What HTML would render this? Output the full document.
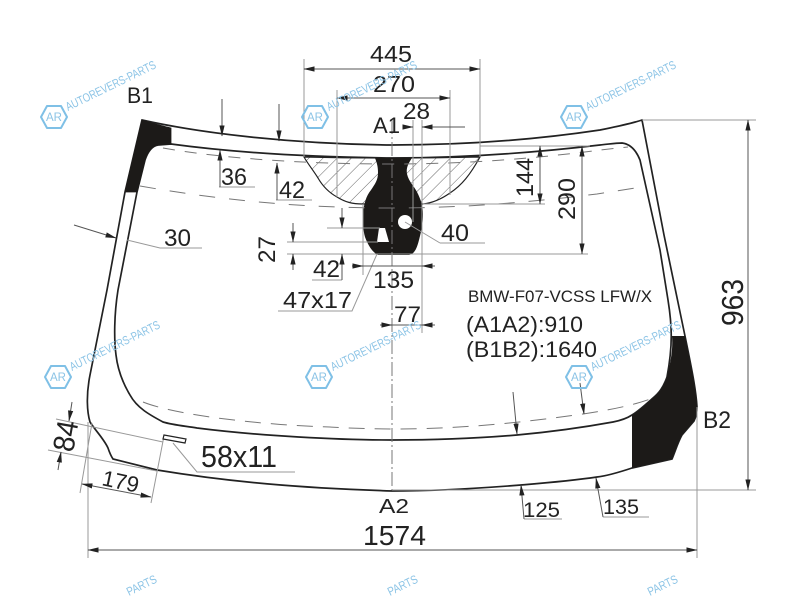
<!DOCTYPE html>
<html>
<head>
<meta charset="utf-8">
<style>
html,body{margin:0;padding:0;background:#fff;width:800px;height:600px;overflow:hidden}
svg{display:block;overflow:hidden}
text{font-family:"Liberation Sans",sans-serif;fill:#222}
text.wt{fill:#8cc4e6;font-size:12px}
text.ar{fill:#8cc4e6;font-size:12px}
.d{stroke:#555;stroke-width:1;fill:none}
.g{stroke:#999;stroke-width:1;fill:none}
.o{stroke:#222;stroke-width:1.7;fill:none}
.da{stroke:#777;stroke-width:1;fill:none;stroke-dasharray:12 10}
.hex{fill:none;stroke:#7fc0e6;stroke-width:2;stroke-linejoin:round}
</style>
</head>
<body>
<svg width="800" height="600" viewBox="0 0 800 600" xmlns="http://www.w3.org/2000/svg">
<defs>
<pattern id="h" width="10" height="10" patternUnits="userSpaceOnUse" patternTransform="rotate(-45)">
<rect width="10" height="10" fill="#fff"/><line x1="0" y1="0" x2="10" y2="0" stroke="#666" stroke-width="1"/>
</pattern>
<marker id="a" markerWidth="11" markerHeight="6" refX="10.5" refY="3" orient="auto-start-reverse" markerUnits="userSpaceOnUse"><path d="M0,0.4 L11,3 L0,5.6 Z" fill="#222"/></marker>
</defs>
<rect width="800" height="600" fill="#fff"/>

<!-- glass outlines -->
<path d="M142,120 C200,133 290,144 392,145 C470,145 540,139 600,130 C615,127 630,124 642,120 L664,235 L685,336 C692,370 696,390 697,407 C697,413 696,417 694,421 L682,435 C678,442 675,452 672,459 L632,468 C620,472 606,476 597,477 C570,481 545,483 521,485 C470,489 430,491 392,491 C300,488 230,482 157,470 L113,459 C111,456 109,451 108,448 C104,439 95,430 90,422 C87,412 86,395 90,375 L107,290 L125,192 Z" fill="none" stroke="#222" stroke-width="1.7"/>
<path class="o" d="M171,144 C230,152 300,157 392,158 C470,158 540,152 600,145 C610,144 616,143 622,143 C630,144 636,150 640,160 L660,250 L668,300 C672,325 673,345 667,377 C663,388 659,393 653,398 C645,405 640,410 632,415 C626,419 618,421 613,422 C580,428 550,432 517,435 C470,439 430,440 392,440 C340,440 260,436 197,428 C185,426 173,425 163,422 C150,415 137,408 130,395 C124,385 118,372 116,355 C114,340 114,315 118,290 L137,192 L145,160 C148,151 152,146 158,145 Z"/>

<!-- hatched zone -->
<path d="M304,157 Q392,159 480,157 C470,175 462,185 450,193 C440,200 432,203 423,204 L363,204 C352,204 345,202 337,197 C328,192 322,185 318,178 C313,170 308,164 304,157 Z" fill="url(#h)" stroke="#222" stroke-width="1.2"/>

<!-- black areas -->
<path d="M142,120 C152,123 162,126 171,128 L171,144 L158,145 C152,146 148,151 145,160 L137,192 L125,192 Z" fill="#1c1a18" stroke="#1c1a18" stroke-width="0.8"/>
<path d="M672,336 L685,336 C692,370 696,390 697,407 C697,413 696,417 694,421 L682,435 C678,442 675,452 672,459 L632,468 L632,415 C640,410 645,405 653,398 C659,393 663,388 667,377 C671,360 673,350 672,336 Z" fill="#1c1a18"/>
<path d="M375,158 L412,158 C408,164 406,168 407,174 C409,182 414,186 417,192 C421,200 423,206 423,214 C423,222 422,228 420,236 C418,244 416,254 409,255 L378,255 C372,252 368,245 365,237 C363,230 363,222 363,213 C364,204 366,196 371,190 C375,184 378,180 378,173 C378,167 377,163 375,158 Z" fill="#1c1a18"/>
<circle cx="405" cy="222" r="7" fill="#fff"/>
<path d="M377,242 L379,228 L385,228 L389,242 Z" fill="#fff"/>

<!-- dashed -->
<path class="da" d="M163,148 C220,158 300,164 392,164 C470,164 540,158 600,150 L628,147"/>
<path class="da" style="stroke-dasharray:16 14" d="M140,186 C220,200 300,208 392,208 C470,208 540,201 597,194 L642,187"/>
<path class="da" style="stroke-dasharray:16 10" d="M143,402 C175,415 260,425 330,427 C400,431 470,430 583,414 C610,410 635,405 653,398"/>

<!-- center line -->
<line x1="392" y1="120" x2="392" y2="490" stroke="#777" stroke-width="1" stroke-dasharray="14 3 2 3"/>

<!-- dimensions -->
<g class="g">
<path d="M304,59 V157 M480,59 V157"/>
<path d="M337,90 V197 M450,90 V195"/>
<path d="M413,120 V222 M422,120 V333"/>
<path d="M423,204 H545 M480,146 H590 M372,254 H588 M327,228 H380 M287,242 H378 M287,254 H372"/>
<path d="M363,204 V275"/>
<path d="M642,120 H756 M392,490 H756 M88,422 V558 M697,407 V558"/>
<path d="M56,419 L163,442 M48,450 L157,471 M92,423 L80,493 M164,436 L151,503"/>
<path d="M173,443 L197,472 H295"/>
<path d="M440,243 H485 M405,222 L440,243"/>
<path d="M377,254 L352,311 H278"/>
<path d="M312,280 H342"/>
<path d="M219,187 H255 M276,200 H312"/>
<path d="M127,240 L160,248 H202"/>
<path d="M524,519 H562 M603,517 H649"/>
</g>
<g class="d">
<line x1="304" y1="69" x2="480" y2="69" marker-start="url(#a)" marker-end="url(#a)"/>
<line x1="337" y1="98" x2="450" y2="98" marker-start="url(#a)" marker-end="url(#a)"/>
<line x1="403" y1="127" x2="413" y2="127" marker-end="url(#a)"/>
<line x1="465" y1="127" x2="422" y2="127" marker-end="url(#a)"/>
<line x1="540" y1="146" x2="540" y2="204" marker-start="url(#a)" marker-end="url(#a)"/>
<line x1="582" y1="146" x2="582" y2="254" marker-start="url(#a)" marker-end="url(#a)"/>
<line x1="342" y1="208" x2="342" y2="228" marker-end="url(#a)"/>
<line x1="342" y1="280" x2="342" y2="254" marker-end="url(#a)"/>
<line x1="293" y1="223" x2="293" y2="242" marker-end="url(#a)"/>
<line x1="293" y1="270" x2="293" y2="254" marker-end="url(#a)"/>
<line x1="352" y1="266" x2="363" y2="266" marker-end="url(#a)"/>
<line x1="435" y1="266" x2="422" y2="266" marker-end="url(#a)"/>
<line x1="363" y1="266" x2="422" y2="266"/>
<line x1="380" y1="325" x2="392" y2="325" marker-end="url(#a)"/>
<line x1="435" y1="325" x2="422" y2="325" marker-end="url(#a)"/>
<line x1="392" y1="325" x2="422" y2="325"/>
<line x1="748" y1="120" x2="748" y2="490" marker-start="url(#a)" marker-end="url(#a)"/>
<line x1="88" y1="550" x2="697" y2="550" marker-start="url(#a)" marker-end="url(#a)"/>
<line x1="222" y1="99" x2="222" y2="136" marker-end="url(#a)"/>
<line x1="279" y1="104" x2="279" y2="141" marker-end="url(#a)"/>
<line x1="220" y1="187" x2="220" y2="150" marker-end="url(#a)"/>
<line x1="277" y1="200" x2="277" y2="163" marker-end="url(#a)"/>
<line x1="74" y1="225" x2="116" y2="238" marker-end="url(#a)"/>
<line x1="513" y1="392" x2="517" y2="434" marker-end="url(#a)"/>
<line x1="580" y1="383" x2="584" y2="414" marker-end="url(#a)"/>
<line x1="524" y1="519" x2="521" y2="485" marker-end="url(#a)"/>
<line x1="603" y1="517" x2="596" y2="478" marker-end="url(#a)"/>
<line x1="72" y1="402" x2="69" y2="421" marker-end="url(#a)"/>
<line x1="58" y1="470" x2="61" y2="452" marker-end="url(#a)"/>
<line x1="82" y1="484" x2="151" y2="497" marker-start="url(#a)" marker-end="url(#a)"/>
</g>

<path d="M164,435 L186,439 L185,443 L163,439 Z" fill="#fff" stroke="#222" stroke-width="1.2"/>

<!-- labels -->
<text x="370" y="62" font-size="23" textLength="42" lengthAdjust="spacingAndGlyphs">445</text>
<text x="373" y="92" font-size="23" textLength="42" lengthAdjust="spacingAndGlyphs">270</text>
<text x="403" y="119" font-size="23" textLength="27" lengthAdjust="spacingAndGlyphs">28</text>
<text x="373" y="133" font-size="22" textLength="27" lengthAdjust="spacingAndGlyphs">A1</text>
<text x="127" y="103" font-size="22" textLength="26" lengthAdjust="spacingAndGlyphs">B1</text>
<text x="221" y="185" font-size="24" textLength="26" lengthAdjust="spacingAndGlyphs">36</text>
<text x="279" y="198" font-size="24" textLength="26" lengthAdjust="spacingAndGlyphs">42</text>
<text x="164" y="246" font-size="24" textLength="27" lengthAdjust="spacingAndGlyphs">30</text>
<text x="441" y="241" font-size="24" textLength="28" lengthAdjust="spacingAndGlyphs">40</text>
<text x="313" y="277" font-size="24" textLength="27" lengthAdjust="spacingAndGlyphs">42</text>
<text x="373" y="288" font-size="24" textLength="41" lengthAdjust="spacingAndGlyphs">135</text>
<text x="283" y="308" font-size="23" textLength="69" lengthAdjust="spacingAndGlyphs">47x17</text>
<text x="394" y="322" font-size="22" textLength="27" lengthAdjust="spacingAndGlyphs">77</text>
<text transform="translate(275,263) rotate(-90)" font-size="24" textLength="27" lengthAdjust="spacingAndGlyphs">27</text>
<text transform="translate(533,197) rotate(-90)" font-size="24" textLength="39" lengthAdjust="spacingAndGlyphs">144</text>
<text transform="translate(575,220) rotate(-90)" font-size="24" textLength="42" lengthAdjust="spacingAndGlyphs">290</text>
<text transform="translate(743,326) rotate(-90)" font-size="31" textLength="47" lengthAdjust="spacingAndGlyphs">963</text>
<text x="468" y="302" font-size="17" textLength="184" lengthAdjust="spacingAndGlyphs">BMW-F07-VCSS LFW/X</text>
<text x="466" y="332" font-size="22" textLength="117" lengthAdjust="spacingAndGlyphs">(A1A2):910</text>
<text x="466" y="357" font-size="22" textLength="131" lengthAdjust="spacingAndGlyphs">(B1B2):1640</text>
<text x="703" y="428" font-size="24" textLength="28" lengthAdjust="spacingAndGlyphs">B2</text>
<text x="201" y="467" font-size="31" textLength="76" lengthAdjust="spacingAndGlyphs">58x11</text>
<text transform="translate(73,453) rotate(-80)" font-size="30" textLength="31" lengthAdjust="spacingAndGlyphs">84</text>
<text transform="translate(101,485) rotate(12)" font-size="22" textLength="37" lengthAdjust="spacingAndGlyphs">179</text>
<text x="379" y="513" font-size="20" textLength="30" lengthAdjust="spacingAndGlyphs">A2</text>
<text x="523" y="517" font-size="21" textLength="37" lengthAdjust="spacingAndGlyphs">125</text>
<text x="603" y="514" font-size="21" textLength="36" lengthAdjust="spacingAndGlyphs">135</text>
<text x="363" y="545" font-size="28" textLength="63" lengthAdjust="spacingAndGlyphs">1574</text>

<!-- watermarks -->
<g>
<path class="hex" d="M41,117 L47,106 L61,106 L67,117 L61,128 L47,128 Z"/><text class="ar" x="46" y="121" textLength="16" lengthAdjust="spacingAndGlyphs">AR</text>
<text class="wt" transform="translate(68,111) rotate(-26)" textLength="99" lengthAdjust="spacingAndGlyphs">AUTOREVERS-PARTS</text>
<path class="hex" d="M302,117 L308,106 L322,106 L328,117 L322,128 L308,128 Z"/><text class="ar" x="307" y="121" textLength="16" lengthAdjust="spacingAndGlyphs">AR</text>
<text class="wt" transform="translate(329,111) rotate(-26)" textLength="99" lengthAdjust="spacingAndGlyphs">AUTOREVERS-PARTS</text>
<path class="hex" d="M561,117 L567,106 L581,106 L587,117 L581,128 L567,128 Z"/><text class="ar" x="566" y="121" textLength="16" lengthAdjust="spacingAndGlyphs">AR</text>
<text class="wt" transform="translate(588,111) rotate(-26)" textLength="99" lengthAdjust="spacingAndGlyphs">AUTOREVERS-PARTS</text>
<path class="hex" d="M45,377 L51,366 L65,366 L71,377 L65,388 L51,388 Z"/><text class="ar" x="50" y="381" textLength="16" lengthAdjust="spacingAndGlyphs">AR</text>
<text class="wt" transform="translate(72,371) rotate(-26)" textLength="99" lengthAdjust="spacingAndGlyphs">AUTOREVERS-PARTS</text>
<path class="hex" d="M306,377 L312,366 L326,366 L332,377 L326,388 L312,388 Z"/><text class="ar" x="311" y="381" textLength="16" lengthAdjust="spacingAndGlyphs">AR</text>
<text class="wt" transform="translate(333,371) rotate(-26)" textLength="99" lengthAdjust="spacingAndGlyphs">AUTOREVERS-PARTS</text>
<path class="hex" d="M566,377 L572,366 L586,366 L592,377 L586,388 L572,388 Z"/><text class="ar" x="571" y="381" textLength="16" lengthAdjust="spacingAndGlyphs">AR</text>
<text class="wt" transform="translate(593,371) rotate(-26)" textLength="99" lengthAdjust="spacingAndGlyphs">AUTOREVERS-PARTS</text>
<text class="wt" transform="translate(129,596) rotate(-26)" textLength="32" lengthAdjust="spacingAndGlyphs">PARTS</text>
<text class="wt" transform="translate(390,596) rotate(-26)" textLength="32" lengthAdjust="spacingAndGlyphs">PARTS</text>
<text class="wt" transform="translate(650,596) rotate(-26)" textLength="32" lengthAdjust="spacingAndGlyphs">PARTS</text>
</g>
</svg>
</body>
</html>
